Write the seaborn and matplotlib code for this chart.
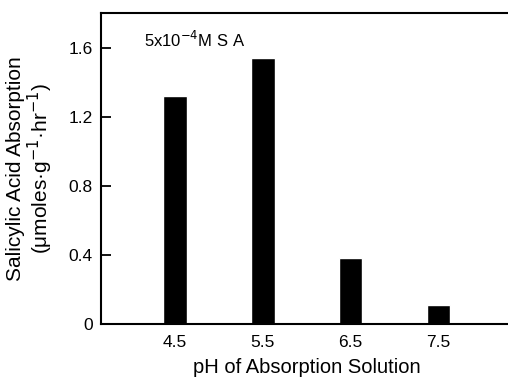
import matplotlib
matplotlib.use("Agg")
import matplotlib.pyplot as plt
import pandas as pd
import seaborn as sns

# Data
ph = ["4.5", "5.5", "6.5", "7.5"]
absorption = [1.32, 1.54, 0.38, 0.11]

df = pd.DataFrame({"ph": ph, "absorption": absorption})

sns.set_theme(style="white")
plt.rcParams["font.family"] = ["Liberation Sans", "DejaVu Sans"]
plt.rcParams["text.color"] = "black"
plt.rcParams["axes.labelcolor"] = "black"
plt.rcParams["xtick.color"] = "black"
plt.rcParams["ytick.color"] = "black"

fig = plt.figure(figsize=(5.08, 3.81), dpi=100)
ax = fig.add_axes([101 / 508, 57 / 381, 1 - 101 / 508 + 0.01, 311 / 381])

sns.barplot(data=df, x="ph", y="absorption", color="black", width=0.27,
            saturation=1, ax=ax)

ax.set_xlim(-0.84, 3.85)
ax.set_ylim(0, 1.8)
ax.set_yticks([0, 0.4, 0.8, 1.2, 1.6])
ax.set_yticklabels(["0", "0.4", "0.8", "1.2", "1.6"])
ax.tick_params(axis="y", direction="in", length=7, width=1.3, labelsize=12.5,
               left=True, pad=6)
ax.tick_params(axis="x", length=0, labelsize=12.5, pad=8)

for side in ["left", "bottom", "top"]:
    ax.spines[side].set_linewidth(1.5)
    ax.spines[side].set_color("black")
ax.spines["right"].set_visible(False)

ax.set_xlabel("pH of Absorption Solution", fontsize=14.5, labelpad=6)
ax.set_ylabel("Salicylic Acid Absorption\n(μmoles·g$^{-1}$·hr$^{-1}$)",
              fontsize=15, labelpad=10, linespacing=1.0)

ax.text(0.105, 0.913, "5x10$^{-4}$M S A", transform=ax.transAxes,
        fontsize=12, ha="left", va="center")

fig.savefig("out.png", dpi=100)
